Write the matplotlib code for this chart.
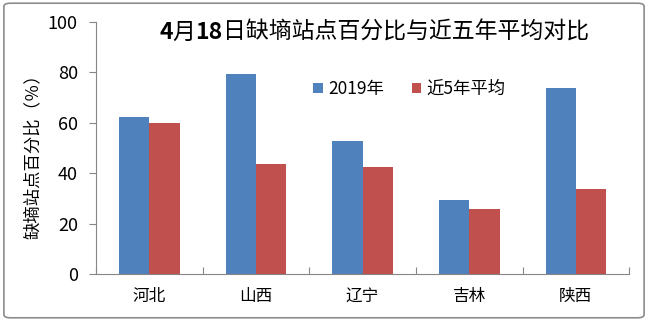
import matplotlib
matplotlib.use('Agg')
import numpy as np
import matplotlib.pyplot as plt
from matplotlib.patches import FancyBboxPatch

plt.rcParams['font.family'] = ['Noto Sans CJK SC', 'DejaVu Sans']

# 数据
provinces = ['河北', '山西', '辽宁', '吉林', '陕西']
values_2019 = [62.2, 79.3, 52.9, 29.6, 73.6]
values_avg5 = [59.9, 43.7, 42.3, 25.9, 33.7]
series_names = ['2019年', '近5年平均']
y_ticks = [0, 20, 40, 60, 80, 100]
# 标题分段：数字加粗，汉字常规
title_parts = [('4', 'bold'), ('月', 'normal'), ('18', 'bold'),
               ('日缺墒站点百分比与近五年平均对比', 'normal')]

BLUE = '#4F81BD'
RED = '#C0504D'
AXIS_GRAY = '#868686'

fig = plt.figure(figsize=(6.48, 3.21), dpi=100)
ax = fig.add_axes([0.148, 0.1455, 0.823, 0.787])

x = np.arange(len(provinces))
width = 0.284
ax.bar(x - width / 2, values_2019, width, color=BLUE, label=series_names[0])
ax.bar(x + width / 2, values_avg5, width, color=RED, label=series_names[1])

ax.set_xlim(-0.5, len(provinces) - 0.5)
ax.set_ylim(0, 100)
ax.set_yticks(y_ticks)
ax.tick_params(axis='y', direction='out', length=5, color=AXIS_GRAY,
               labelsize=13, pad=8)

# 分类刻度放在类别之间
ax.set_xticks(np.arange(-0.5, len(provinces), 1.0))
ax.set_xticklabels([])
ax.set_xticks(x, minor=True)
ax.set_xticklabels(provinces, minor=True, fontsize=12)
ax.tick_params(axis='x', which='major', direction='in', length=5, color=AXIS_GRAY)
ax.tick_params(axis='x', which='minor', length=0, pad=10)

for side in ['top', 'right']:
    ax.spines[side].set_visible(False)
for side in ['left', 'bottom']:
    ax.spines[side].set_color(AXIS_GRAY)

ax.legend(loc='center', bbox_to_anchor=(0.588, 0.733), ncol=2, frameon=False,
          fontsize=12.5, handlelength=0.55, handleheight=0.55, handletextpad=0.3,
          columnspacing=1.6)

# 标题：逐段排版
renderer = fig.canvas.get_renderer()
title_size = 16.5
pieces = []
for txt, weight in title_parts:
    t = fig.text(0, 0.90, txt, ha='left', va='center',
                 fontsize=title_size, fontweight=weight)
    pieces.append(t)
widths = [p.get_window_extent(renderer).width for p in pieces]
x_pix = 0.577 * fig.bbox.width - sum(widths) / 2
for p, w in zip(pieces, widths):
    p.set_x(x_pix / fig.bbox.width)
    x_pix += w

fig.text(0.050, 0.525, '缺墒站点百分比（％）', rotation=90,
         ha='center', va='center', fontsize=12.5)

# 外框
border = FancyBboxPatch((0.006, 0.01), 0.988, 0.98,
                        boxstyle='round,pad=0,rounding_size=0.01',
                        transform=fig.transFigure, fill=False,
                        edgecolor='#8c8c8c', linewidth=1.2)
fig.patches.append(border)

fig.savefig('out.png', dpi=100)
